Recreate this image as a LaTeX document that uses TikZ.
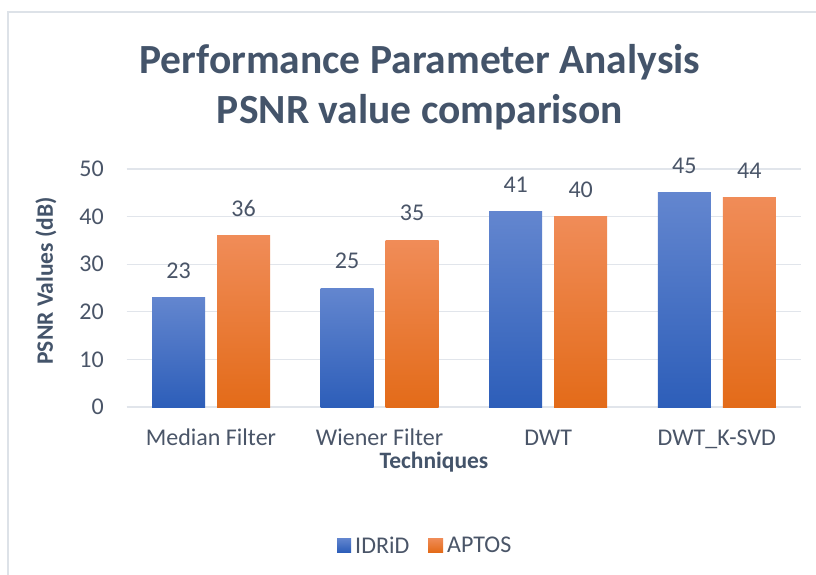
\documentclass[tikz,border=0pt]{standalone}
\usepackage{fontspec}
\setmainfont{Carlito}
\definecolor{txt}{HTML}{44546A}
\definecolor{tick}{HTML}{4A5568}
\definecolor{grid}{HTML}{E1E5EB}
\definecolor{frame}{HTML}{DDE2E8}
\definecolor{btop}{HTML}{6386CF}
\definecolor{bmid}{HTML}{4474CC}
\definecolor{bbot}{HTML}{2D5EB9}
\definecolor{otop}{HTML}{F08C58}
\definecolor{omid}{HTML}{F27D27}
\definecolor{obot}{HTML}{E36B19}
\tikzset{
  ticklab/.style={text=tick,font=\fontsize{24}{28}\selectfont,inner sep=0pt},
  vallab/.style={text=tick,font=\fontsize{24}{28}\selectfont,inner sep=0pt,anchor=base},
  axtitle/.style={text=txt,font=\bfseries\fontsize{23.5}{28}\selectfont,inner sep=0pt},
  titlelab/.style={text=txt,font=\bfseries\fontsize{41.5}{50}\selectfont,inner sep=0pt,anchor=base},
  gridline/.style={draw=grid,line width=1.3pt},
  idbar/.style={top color=btop,middle color=bmid,bottom color=bbot,draw=none},
  apbar/.style={top color=otop,middle color=omid,bottom color=obot,draw=none},
}
\begin{document}
\begin{tikzpicture}[x=1pt,y=-1pt]
\useasboundingbox (0,0) rectangle (816,574);
\fill[white] (0,0) rectangle (816,574);
% frame
\draw[frame,line width=1.2pt] (8,580) -- (8,12) -- (820,12);
% title
\node[titlelab] (title1) at (420,73) {Performance Parameter Analysis};
\node[titlelab] (title2) at (420,123) {PSNR value comparison};
% gridlines and tick labels
\foreach \v/\n in {0/t0,10/t1,20/t2,30/t3,40/t4,50/t5}{
  \draw[gridline] (126.7,{407-4.76*\v}) -- (801,{407-4.76*\v});
  \node[ticklab,anchor=east] (\n) at (104,{407-4.76*\v}) {\v};
}
% bars
\foreach \c/\a/\b/\i in {211.0/23/36/1,379.6/25/35/2,548.2/41/40/3,716.8/45/44/4}{
  \shade[idbar] ({\c-59},407) rectangle ({\c-6},{407-4.76*\a});
  \shade[apbar] ({\c+6},407) rectangle ({\c+59},{407-4.76*\b});
  \node[vallab] (va\i) at ({\c-32.5},{407-4.76*\a-19.5}) {\a};
  \node[vallab] (vb\i) at ({\c+32.5},{407-4.76*\b-19.5}) {\b};
}
% category labels
\node[ticklab,anchor=base] (c1) at (211.0,445) {Median Filter};
\node[ticklab,anchor=base] (c2) at (379.6,445) {Wiener Filter};
\node[ticklab,anchor=base] (c3) at (548.2,445) {DWT};
\node[ticklab,anchor=base] (c4) at (716.8,445) {DWT\_K-SVD};
% axis titles
\node[axtitle] (xt) at (434,462) {Techniques};
\node[axtitle,rotate=90] (yt) at (46,281) {PSNR Values (dB)};
% legend
\shade[idbar] (337,538) rectangle (351,552);
\node[ticklab,anchor=west] (l1) at (355,545) {IDRiD};
\shade[apbar] (428,538) rectangle (443,552);
\node[ticklab,anchor=west] (l2) at (447,545) {APTOS};
\end{tikzpicture}
\end{document}
